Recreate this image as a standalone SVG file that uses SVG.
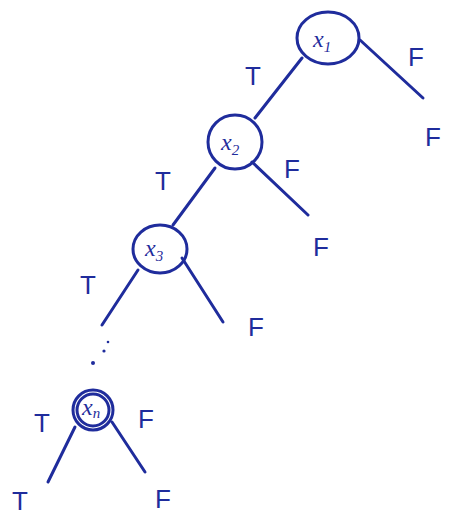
<svg xmlns="http://www.w3.org/2000/svg" width="449" height="517" viewBox="0 0 449 517">
<style>
.e{stroke:#1f2c9c;stroke-width:3;fill:none;stroke-linecap:round}
.n{stroke:#1f2c9c;stroke-width:3;fill:none}
.l{font-family:"Liberation Sans",sans-serif;font-size:26px;fill:#1f2c9c}
.v{font-family:"Liberation Serif",serif;font-size:24px;fill:#1f2c9c;font-style:italic}
.s{font-size:15px}
.d{fill:#1f2c9c}
</style>
<rect width="449" height="517" fill="#ffffff"/>
<g id="connectors">
<line class="e" x1="302" y1="58" x2="255" y2="118"/>
<line class="e" x1="360" y1="40" x2="423" y2="98"/>
<line class="e" x1="215" y1="168" x2="173" y2="225"/>
<line class="e" x1="252" y1="162" x2="308" y2="215"/>
<line class="e" x1="138" y1="270" x2="102" y2="325"/>
<line class="e" x1="182" y1="258" x2="223" y2="322"/>
<line class="e" x1="75" y1="427" x2="48" y2="482"/>
<line class="e" x1="112" y1="422" x2="145" y2="472"/>
</g>
<g id="x1">
<ellipse class="n" cx="328" cy="38" rx="31" ry="26"/>
<text class="v" x="313" y="47">x<tspan class="s" dy="5">1</tspan></text>
</g>
<g id="x2">
<ellipse class="n" cx="235" cy="142" rx="27" ry="27"/>
<text class="v" x="221" y="150">x<tspan class="s" dy="5">2</tspan></text>
</g>
<g id="x3">
<ellipse class="n" cx="160" cy="249" rx="27" ry="24"/>
<text class="v" x="145" y="256">x<tspan class="s" dy="5">3</tspan></text>
</g>
<g id="xn">
<ellipse class="n" cx="93" cy="410" rx="20" ry="20" stroke-width="4"/>
<ellipse class="n" cx="93" cy="410" rx="16" ry="16" stroke-width="1.5"/>
<text class="v" x="82" y="415" font-size="20">x<tspan class="s" dy="3" font-size="12">n</tspan></text>
</g>
<g id="dots">
<circle class="d" cx="93" cy="363" r="2"/>
<circle class="d" cx="104" cy="351" r="1.6"/>
<circle class="d" cx="108" cy="342" r="1.3"/>
</g>
<g id="labels">
<text class="l" x="245" y="85">T</text>
<text class="l" x="408" y="66">F</text>
<text class="l" x="425" y="146">F</text>
<text class="l" x="155" y="190">T</text>
<text class="l" x="284" y="178">F</text>
<text class="l" x="313" y="256">F</text>
<text class="l" x="80" y="294">T</text>
<text class="l" x="248" y="336">F</text>
<text class="l" x="34" y="432">T</text>
<text class="l" x="138" y="428">F</text>
<text class="l" x="12" y="510">T</text>
<text class="l" x="155" y="508">F</text>
</g>
</svg>
